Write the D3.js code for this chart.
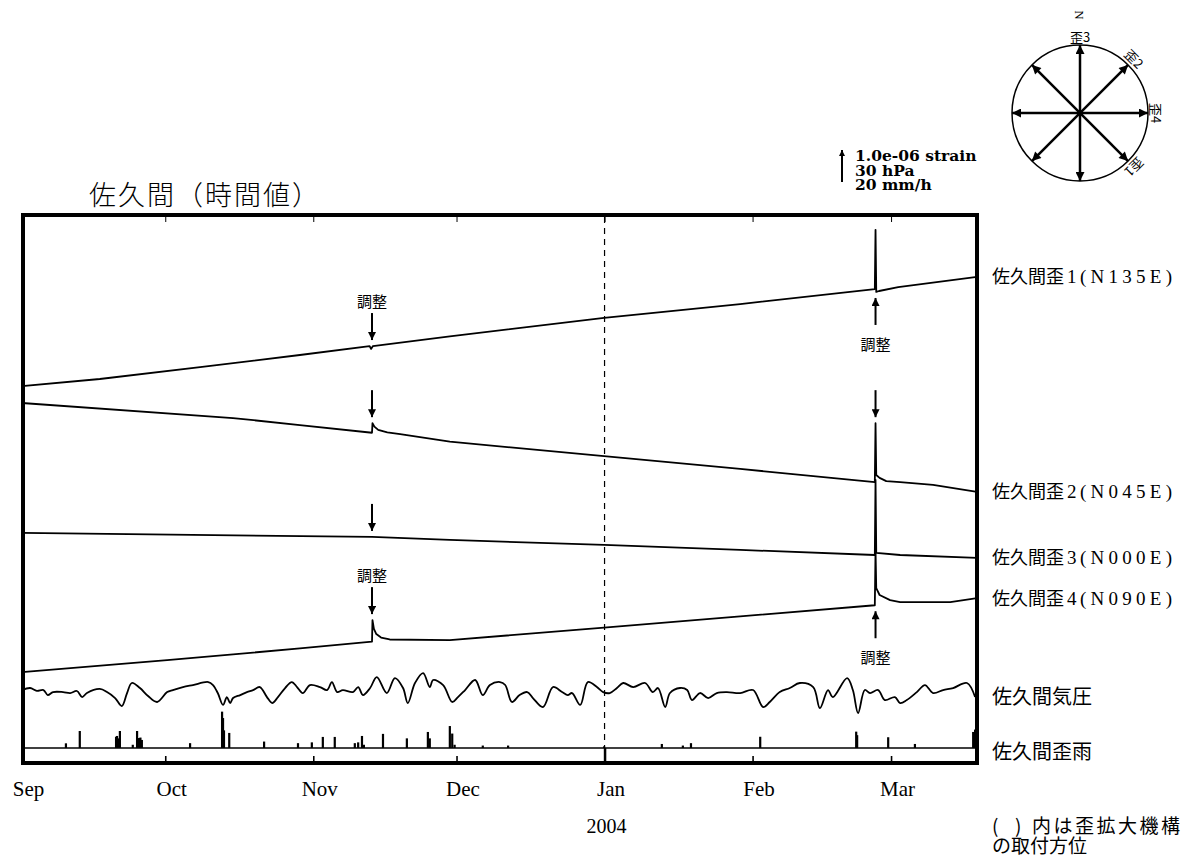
<!DOCTYPE html>
<html>
<head>
<meta charset="utf-8">
<script src="https://cdn.jsdelivr.net/npm/d3@7"></script>
<style>
body { margin: 0; background: #fff; }
</style>
</head>
<body>
<script>
// time is counted in days from 2003-09-01 00:00
var startDate = new Date(2003, 8, 1);
var endDate = new Date(2004, 2, 19);

var monthNames = ["Sep", "Oct", "Nov", "Dec", "Jan", "Feb", "Mar"];
var monthDates = [new Date(2003, 8, 1), new Date(2003, 9, 1), new Date(2003, 10, 1), new Date(2003, 11, 1),
                  new Date(2004, 0, 1), new Date(2004, 1, 1), new Date(2004, 2, 1)];

// strain, 1e-6, relative to the first sample
var s1Day = [0, 16.3, 37.3, 58.2, 72.8, 73.1, 73.5, 89.6, 121.9, 150.4, 178.6, 178.75, 178.9, 179.5, 183.5, 200];
var s1Val = [0, 0.22, 0.59, 0.97, 1.25, 1.16, 1.25, 1.55, 2.13, 2.56, 3.03, 4.88, 2.94, 2.97, 3.09, 3.41];

var s2Day = [0, 44.2, 58.2, 73.3, 73.4, 73.8, 74.6, 76.5, 79.2, 89.6, 121.9, 150.4, 178.6, 178.75, 178.9, 179.6, 181, 183.9, 190.8, 200];
var s2Val = [0, -0.47, -0.69, -0.93, -0.63, -0.74, -0.84, -0.92, -0.97, -1.21, -1.66, -2.06, -2.47, -0.63, -2.25, -2.34, -2.44, -2.47, -2.56, -2.78];

var s3Day = [0, 73.3, 89.6, 121.9, 150.4, 178.6, 178.75, 178.9, 183.9, 200];
var s3Val = [0, -0.125, -0.22, -0.375, -0.53, -0.69, 1.66, -0.625, -0.69, -0.78];

var s4Day = [0, 30.4, 58.2, 73.3, 73.4, 73.7, 74.2, 75.2, 77, 89.6, 121.9, 150.4, 178.6, 178.75, 178.9, 179.6, 181.8, 183.9, 194.4, 200];
var s4Val = [0, 0.375, 0.74, 0.95, 1.625, 1.35, 1.19, 1.08, 1.02, 1.0, 1.39, 1.74, 2.09, 3.81, 2.625, 2.41, 2.25, 2.19, 2.19, 2.31];

// pressure, hPa
var pDay = [0,1.7,3.1,4.5,5.4,6.5,8.6,10.1,11.5,12.6,13.6,16.3,17.8,19.5,20.9,22,23,24.7,26.4,28.3,
  30.4,31.6,33.7,35.8,39,40,41,42.1,42.9,43.6,44.2,45.7,47.1,48.4,49.8,51.3,52.4,53.6,55.1,56.5,
  57.6,58.8,60.3,62.4,63.9,64.9,66,67.2,69.3,70.4,71.4,72.9,74.3,76.4,78.1,79.8,80.8,82.3,84,85.4,
  86.1,88.2,90.1,91.3,92.8,94.9,96.5,98,100.1,101.2,102.6,104.2,105.8,107,109.1,111.2,113.1,114.3,115.2,116.9,
  118.5,120.4,121.7,123.1,124.6,125.9,128,130.5,132.1,133.2,134.7,135.7,137.8,139.3,140.3,142,143.7,145.5,147.6,150.4,
  153.1,155.2,156.6,158.7,160.8,162.9,165.7,167.1,168.8,169.8,172.8,174,175.1,176.5,177.6,179.3,180.7,182.8,183.9,185.3,
  187.4,189.1,190.8,192.9,195,197.9,199.6];
var pVal = [1013,1014.9,1012.3,1013,1008.3,1011.1,1011.1,1010.2,1012.1,1006.4,1010.2,1014,1011.1,1005.5,998,1010.2,1019.6,1014.9,1007.4,1001.8,
  1011.1,1013,1015.8,1017.7,1020.5,1017.7,1010.2,999,1006.4,1000.8,1005.5,1008.3,1011.1,1013,1015.8,1006.4,1000.8,1006.4,1014.9,1020.5,
  1015.8,1010.2,1017.7,1015.8,1013,1020.5,1011.1,1013,1011.1,1015.8,1008.3,1014.9,1025.2,1010.2,1024.2,1014.9,1000.8,1019.6,1028.9,1015.8,
  1022.4,1017.7,1001.8,1006.4,1013,1022.4,1008.3,1017.7,1020.5,1017.7,1001.8,1008.3,1011.1,1005.5,997.1,1015.8,1011.1,1008.3,1010.2,999,
  1020.5,1015.8,1011.1,1010.2,1014.9,1019.6,1015.8,1019.6,1011.1,1014.9,997.1,1010.2,1014.9,1013,1003.6,1010.2,1005.5,1010.2,1011.1,1010.2,
  1013,997.1,1001.8,1011.1,1014.9,1019.6,1015.8,996.1,1013,1006.4,1024.2,1013,991.4,1013,1010.2,1013,1003.6,1006.4,1000.8,1003.6,
  1011.1,1017.7,1010.2,1013,1014.9,1019.6,1006.4];

// rain, mm/h
var rainDay = [9.2,12.1,19.7,19.9,20.1,20.5,23.2,24.1,24.5,24.8,25.1,35.2,41.9,42.1,42.3,43.4,50.7,57.8,60.7,63,
  65.5,69.7,70.4,71.2,71.6,75.6,80.6,85,85.4,89.6,90.1,90.6,96.5,101.8,121.9,134,138.4,140.1,154.6,174.7,
  174.9,181.4,187,199.2,199.6];
var rainVal = [2.9,10.6,7,7.5,6,10.6,2,10.6,6.2,6.5,5,3,22.7,18.7,11,9.4,4,3,3.5,6.9,
  6.9,3,3.5,7.5,2,8.8,6,10,6,13.7,9,2,1.5,1.5,1,2.5,1.5,3,7,10.2,
  8,6.7,2.5,10,11.5];

var strainNames = ["佐久間歪", "佐久間歪", "佐久間歪", "佐久間歪"];
var strainNums = ["1", "2", "3", "4"];
var strainDirs = ["(N135E)", "(N045E)", "(N000E)", "(N090E)"];
var compassNames = ["歪3", "歪2", "歪4", "歪1"];
var compassAngles = [0, 45, 90, 135];

// adjustment marks: day, strain index, arrow pointing down or up, with label
var adjDay = [73.3, 73.3, 73.3, 73.3, 178.75, 178.75, 178.75];
var adjTrace = [0, 1, 2, 3, 0, 1, 3];
var adjDown = [true, true, true, true, false, true, false];
var adjLabel = [true, false, false, true, true, false, true];

var cjk = "'Noto Sans CJK JP', sans-serif";
var serif = "'Liberation Serif', 'Times New Roman', serif";

var svg = d3.select("body").append("svg")
    .attr("width", 1187)
    .attr("height", 859);

var defs = svg.append("defs");
function marker(id, w, h) {
    defs.append("marker").attr("id", id)
        .attr("viewBox", "0 0 10 10").attr("refX", 10).attr("refY", 5)
        .attr("markerUnits", "userSpaceOnUse")
        .attr("markerWidth", w).attr("markerHeight", h)
        .attr("orient", "auto-start-reverse")
      .append("path").attr("d", "M0,0L10,5L0,10z").attr("fill", "#000");
}
marker("head", 12, 9);
marker("adj", 9, 8);
marker("small", 7, 6);

function dayDate(d) { return new Date(startDate.getTime() + d * 864e5); }

var x = d3.scaleTime().domain([startDate, endDate]).range([22, 977]);
// vertical scale in 1e-6 strain; 30 hPa and 20 mm/h share the same bar
var y = d3.scaleLinear().domain([0, 548 / 32]).range([763, 215]);
var strainBase = [11.78, 11.25, 7.19, 2.84];
var pressBase = 2.28, pressRef = 1013;
var rainBase = 0.47;

var series = [[s1Day, s1Val], [s2Day, s2Val], [s3Day, s3Val], [s4Day, s4Val]];
function strainY(k, v) { return y(strainBase[k] + v); }
function pressY(v) { return y(pressBase + (v - pressRef) / 30); }
function rainY(v) { return y(rainBase + v / 20); }

// dashed year line
svg.append("line")
    .attr("x1", x(monthDates[4])).attr("x2", x(monthDates[4]))
    .attr("y1", 217).attr("y2", rainY(0))
    .attr("stroke", "#000").attr("stroke-width", 1.2)
    .attr("stroke-dasharray", "6,5");

// strain traces
series.forEach(function (s, k) {
    var line = d3.line()
        .x(function (d) { return x(dayDate(d)); })
        .y(function (d, i) { return strainY(k, s[1][i]); });
    svg.append("path")
        .attr("fill", "none")
        .attr("stroke", "#000")
        .attr("stroke-width", 1.8)
        .attr("stroke-linejoin", "round")
        .attr("d", line(s[0]));
});

// pressure
var pLine = d3.line()
    .x(function (d) { return x(dayDate(d)); })
    .y(function (d, i) { return pressY(pVal[i]); })
    .curve(d3.curveCatmullRom.alpha(0.5));
svg.append("path")
    .attr("fill", "none").attr("stroke", "#000").attr("stroke-width", 1.8)
    .attr("d", pLine(pDay));

// rain
svg.append("line")
    .attr("x1", x(startDate)).attr("x2", x(endDate))
    .attr("y1", rainY(0)).attr("y2", rainY(0))
    .attr("stroke", "#000").attr("stroke-width", 1.6);
svg.selectAll("rect.rain")
    .data(rainDay)
    .enter().append("rect")
    .attr("class", "rain")
    .attr("x", function (d) { return x(dayDate(d)) - 1.1; })
    .attr("width", 2.2)
    .attr("y", function (d, i) { return rainY(rainVal[i]); })
    .attr("height", function (d, i) { return rainY(0) - rainY(rainVal[i]); })
    .attr("fill", "#000");

// adjustment arrows
adjDay.forEach(function (d, i) {
    var k = adjTrace[i], s = series[k];
    var near = [];
    s[0].forEach(function (t, j) { if (Math.abs(t - d) < 0.6) near.push(strainY(k, s[1][j])); });
    var ax = x(dayDate(d));
    var tip, tail, ty;
    if (adjDown[i]) {
        tip = d3.min(near) - 6; tail = tip - 27; ty = tail - 6;
    } else {
        tip = d3.max(near) + 6; tail = tip + 27; ty = tail + 25;
    }
    svg.append("line")
        .attr("x1", ax).attr("x2", ax).attr("y1", tail).attr("y2", tip)
        .attr("stroke", "#000").attr("stroke-width", 2)
        .attr("marker-end", "url(#adj)");
    if (adjLabel[i]) {
        svg.append("text")
            .attr("x", ax).attr("y", ty)
            .attr("text-anchor", "middle")
            .attr("font-family", cjk).attr("font-size", 15)
            .text("調整");
    }
});

// frame
svg.append("rect")
    .attr("x", 23).attr("y", 215).attr("width", 954).attr("height", 548)
    .attr("fill", "none").attr("stroke", "#000").attr("stroke-width", 4);

// month ticks along top and bottom
var topTicks = svg.append("g").attr("transform", "translate(0,215)")
    .call(d3.axisTop(x).tickValues(monthDates.slice(1)).tickSize(-7).tickFormat(""));
topTicks.select(".domain").remove();
var botTicks = svg.append("g").attr("transform", "translate(0,763)")
    .call(d3.axisBottom(x).tickValues(monthDates.slice(1)).tickSize(-7).tickFormat(""));
botTicks.select(".domain").remove();
botTicks.selectAll(".tick line")
    .attr("y2", function (d) { return d.getMonth() === 0 ? -15 : -7; })
    .attr("stroke-width", function (d) { return d.getMonth() === 0 ? 2.5 : 1.6; });

// month labels
var labels = svg.append("g").attr("transform", "translate(6,781)")
    .call(d3.axisBottom(x).tickValues(monthDates).tickSize(0).tickPadding(0)
        .tickFormat(function (d, i) { return monthNames[i]; }));
labels.select(".domain").remove();
labels.selectAll("text")
    .attr("font-family", serif).attr("font-size", 21).attr("fill", "#000");

svg.append("text")
    .attr("x", x(monthDates[4]) + 2).attr("y", 833)
    .attr("text-anchor", "middle")
    .attr("font-family", serif).attr("font-size", 20)
    .text("2004");

// title
svg.append("text")
    .attr("x", 89).attr("y", 205)
    .attr("font-family", cjk).attr("font-size", 27).attr("font-weight", 300)
    .attr("letter-spacing", 2)
    .text("佐久間（時間値）");

// right labels
series.forEach(function (s, k) {
    var ly = strainY(k, s[1][s[1].length - 1]) + 6.5;
    svg.append("text")
        .attr("x", 992).attr("y", ly)
        .attr("font-family", cjk).attr("font-size", 18)
        .text(strainNames[k]);
    svg.append("text")
        .attr("x", 1067).attr("y", ly)
        .attr("font-family", serif).attr("font-size", 19)
        .text(strainNums[k]);
    svg.append("text")
        .attr("x", 1080).attr("y", ly)
        .attr("font-family", serif).attr("font-size", 19)
        .attr("textLength", 92).attr("lengthAdjust", "spacing")
        .text(strainDirs[k]);
});
svg.append("text")
    .attr("x", 992).attr("y", pressY(pVal[pVal.length - 1]) + 7)
    .attr("font-family", cjk).attr("font-size", 20)
    .text("佐久間気圧");
svg.append("text")
    .attr("x", 992).attr("y", rainY(0) + 11)
    .attr("font-family", cjk).attr("font-size", 20)
    .text("佐久間歪雨");

var note = svg.append("text")
    .attr("font-family", cjk).attr("font-size", 19);
note.append("tspan").attr("x", 992).attr("y", 833).text("(");
note.append("tspan").attr("x", 1015).attr("y", 833).text(")");
note.append("tspan").attr("x", 1032).attr("y", 833)
    .attr("textLength", 148).attr("lengthAdjust", "spacing").text("内は歪拡大機構");
note.append("tspan").attr("x", 992).attr("y", 853).text("の取付方位");

// scale bar
var barBottom = 182, barLen = y(0) - y(1);
svg.append("line")
    .attr("x1", 842).attr("x2", 842)
    .attr("y1", barBottom).attr("y2", barBottom - barLen)
    .attr("stroke", "#000").attr("stroke-width", 2)
    .attr("marker-end", "url(#small)");
var scaleText = svg.append("text")
    .attr("font-family", "'DejaVu Serif', serif").attr("font-weight", "bold").attr("font-size", 15.5);
["1.0e-06 strain", "30 hPa", "20 mm/h"].forEach(function (t, i) {
    scaleText.append("tspan").attr("x", 855).attr("y", 161 + i * 14.5).text(t);
});

// compass of sensor directions
var cx = 1080, cy = 113, cr = 68;
svg.append("circle")
    .attr("cx", cx).attr("cy", cy).attr("r", cr)
    .attr("fill", "none").attr("stroke", "#000").attr("stroke-width", 1.5);
compassAngles.forEach(function (a, i) {
    var rad = a * Math.PI / 180;
    var dx = Math.sin(rad) * cr, dy = -Math.cos(rad) * cr;
    svg.append("line")
        .attr("x1", cx - dx).attr("y1", cy - dy).attr("x2", cx + dx).attr("y2", cy + dy)
        .attr("stroke", "#000").attr("stroke-width", 2.5)
        .attr("marker-start", "url(#head)").attr("marker-end", "url(#head)");
    var lx = cx + Math.sin(rad) * 76, ly = cy - Math.cos(rad) * 76;
    svg.append("text")
        .attr("transform", "translate(" + lx + "," + ly + ") rotate(" + a + ")")
        .attr("text-anchor", "middle").attr("dy", "0.35em")
        .attr("font-family", cjk).attr("font-size", 13)
        .text(compassNames[i]);
});
svg.append("circle").attr("cx", cx).attr("cy", cy).attr("r", 3).attr("fill", "#000");
svg.append("text")
    .attr("transform", "translate(" + cx + "," + (cy - 98) + ") rotate(90)")
    .attr("text-anchor", "middle").attr("dy", "0.35em")
    .attr("font-family", serif).attr("font-size", 13)
    .text("N");
</script>
</body>
</html>
